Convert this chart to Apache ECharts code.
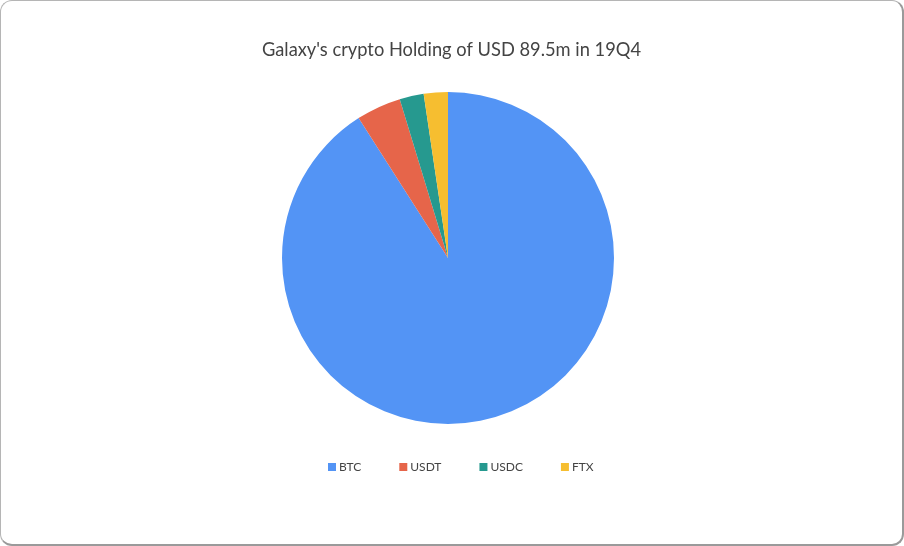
<!DOCTYPE html>
<html><head><meta charset="utf-8">
<script src="https://cdn.jsdelivr.net/npm/echarts@6/dist/echarts.min.js"></script>
<style>
html,body{margin:0;padding:0;background:#fff;}
#wrap{position:absolute;left:0;top:0;width:904px;height:546px;box-sizing:border-box;border:1px solid #b5b5b5;border-right:2px solid #9a9a9a;border-bottom:2px solid #9a9a9a;border-radius:12px;overflow:hidden;background:#fff;}
#chart{width:100%;height:100%;}
</style></head>
<body><div id="wrap"><div id="chart"></div></div>
<script>
const titleText = "Galaxy's crypto Holding of USD 89.5m in 19Q4";
const categories = ["BTC", "USDT", "USDC", "FTX"];
const values = [81.4, 3.9, 2.1, 2.1];
const colors = ["#5394F5", "#E6654A", "#26998F", "#F6BE30"];

const chart = echarts.init(document.getElementById('chart'));
chart.setOption({
  animation: false,
  color: colors,
  title: {
    text: titleText, left: 'center', top: 35,
    textStyle: {fontFamily: 'Lato', fontWeight: 'normal', fontSize: 18.3, color: '#444'}
  },
  legend: {
    data: categories, top: 455, left: 322,
    itemWidth: 8, itemHeight: 8, itemGap: 38,
    icon: 'rect',
    textStyle: {fontFamily: 'Lato', fontSize: 12, color: '#444', padding: [0,0,0,-2]}
  },
  series: [{
    type: 'pie', center: [447, 257], radius: 166,
    startAngle: 90, clockwise: true,
    label: {show: false}, labelLine: {show: false},
    itemStyle: {borderWidth: 0},
    emphasis: {disabled: true},
    data: categories.map((c, i) => ({name: c, value: values[i]}))
  }]
});
</script></body></html>
